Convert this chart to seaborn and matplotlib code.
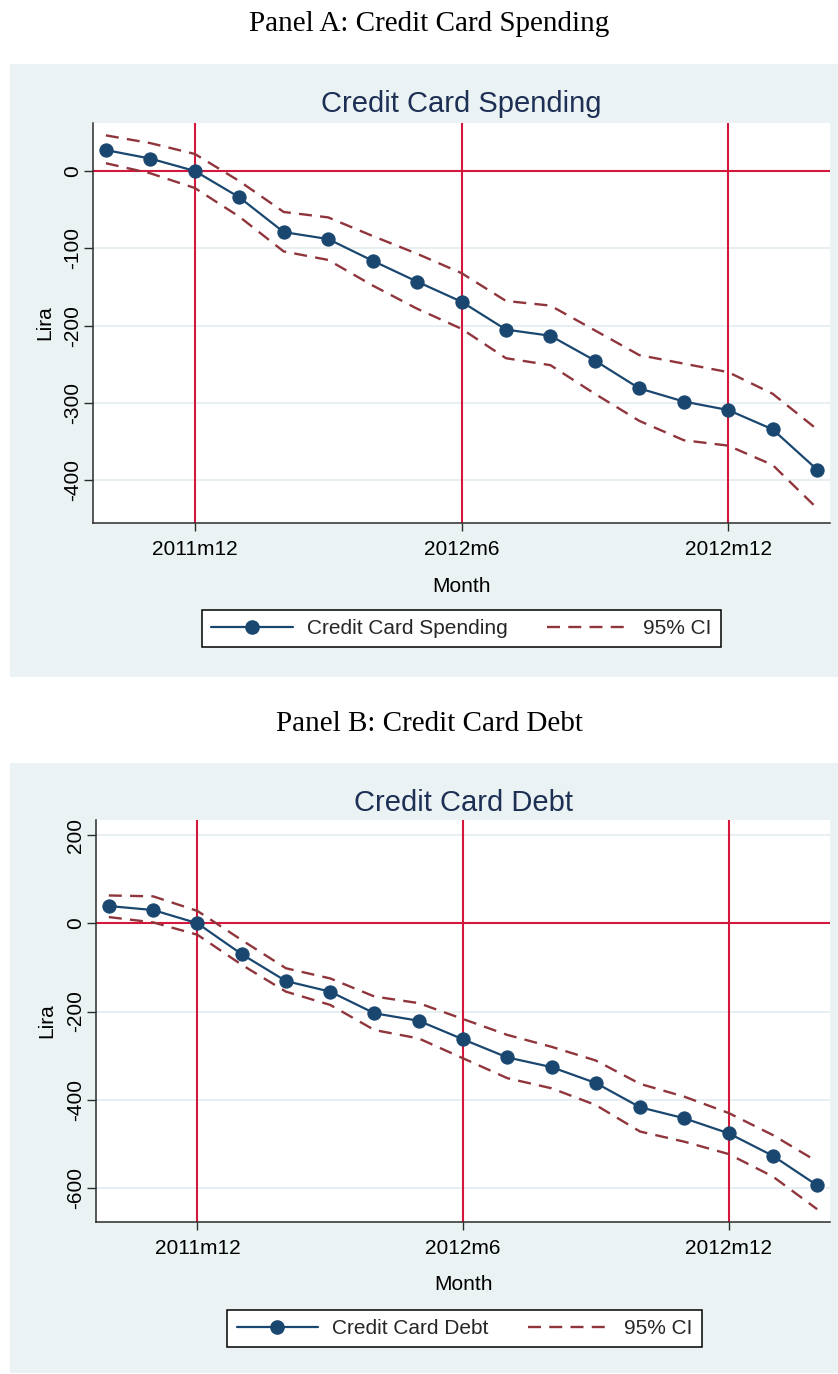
import numpy as np
import pandas as pd
import matplotlib
matplotlib.use("Agg")
import matplotlib.pyplot as plt
import seaborn as sns
from matplotlib.patches import Rectangle
from matplotlib.lines import Line2D

# ---------------- data ----------------
months = ["2011m10", "2011m11", "2011m12", "2012m1", "2012m2", "2012m3", "2012m4",
          "2012m5", "2012m6", "2012m7", "2012m8", "2012m9", "2012m10", "2012m11",
          "2012m12", "2013m1", "2013m2"]
tick_months = ["2011m12", "2012m6", "2012m12"]

spend = [27, 16, 0, -34, -79, -88, -116, -143, -169, -205, -213, -245, -281, -298, -309, -334, -386]
spend_hi = [46, 36, 22, -13, -53, -60, -84, -107, -132, -168, -174, -206, -238, -249, -260, -288, -334]
spend_lo = [10, -3, -22, -59, -104, -115, -148, -178, -204, -242, -251, -288, -323, -348, -355, -380, -436]

debt = [39, 30, 0, -70, -131, -155, -204, -221, -263, -304, -326, -362, -417, -442, -476, -527, -594]
debt_hi = [63, 61, 28, -38, -102, -125, -166, -181, -217, -253, -280, -311, -364, -393, -430, -480, -540]
debt_lo = [14, 2, -26, -94, -155, -185, -242, -261, -306, -351, -374, -412, -472, -495, -523, -574, -648]

spend_yticks = [0, -100, -200, -300, -400]
debt_yticks = [200, 0, -200, -400, -600]

# ---------------- style ----------------
sns.set_theme(style="white")
plt.rcParams['font.family'] = ['Liberation Sans', 'DejaVu Sans']

NAVY = "#1a476f"
MAROON = "#90353b"
RED = "#d3173d"
BG = "#eaf2f3"
GRID = "#e6eef1"
TITLE = "#1e2f55"
AXIS = "#2b2b2b"
DASH = (0, (5.5, 3.5))

W, H = 838, 1374
fig = plt.figure(figsize=(W / 100, H / 100), dpi=100)
fig.patch.set_facecolor("white")


def fx(x):
    return x / W


def fy(y):
    return 1 - y / H


def add_bg(l, t, r, b):
    fig.patches.append(Rectangle((fx(l), fy(b)), (r - l) / W, (b - t) / H,
                                 transform=fig.transFigure, facecolor=BG,
                                 edgecolor="none", zorder=-10))


def panel(box, ax_box, series, hi, lo, yticks, ylim, title, label,
          panel_title, panel_title_y, title_y, month_y, lira_x, legend_xy):
    add_bg(*box)
    l, t, r, b = ax_box
    ax = fig.add_axes([fx(l), fy(b), (r - l) / W, (b - t) / H])
    ax.set_facecolor("white")

    df = pd.DataFrame({"month": months, "x": np.arange(len(months)),
                       "est": series, "hi": hi, "lo": lo})

    # reference lines
    for m in tick_months:
        ax.axvline(months.index(m), color=RED, lw=1.5, zorder=1)
    ax.axhline(0, color=RED, lw=1.5, zorder=1)

    sns.lineplot(data=df, x="x", y="hi", color=MAROON, lw=1.7, ls=DASH, ax=ax, zorder=3)
    sns.lineplot(data=df, x="x", y="lo", color=MAROON, lw=1.7, ls=DASH, ax=ax, zorder=3)
    sns.lineplot(data=df, x="x", y="est", color=NAVY, lw=1.6, marker="o",
                 markersize=9.5, markeredgecolor=NAVY, markeredgewidth=0.8, ax=ax, zorder=4)

    ax.set_xlim(-0.29, len(months) - 1 + 0.29)
    ax.set_ylim(*ylim)
    ax.set_yticks(yticks)
    ax.set_yticklabels([str(v) for v in yticks])
    ax.set_xticks([months.index(m) for m in tick_months])
    ax.set_xticklabels(tick_months)

    ax.yaxis.grid(True, color=GRID, lw=1.3, zorder=0)
    ax.xaxis.grid(False)
    ax.set_axisbelow(True)

    for s in ["top", "right"]:
        ax.spines[s].set_visible(False)
    for s in ["left", "bottom"]:
        ax.spines[s].set_color(AXIS)
        ax.spines[s].set_linewidth(1.1)

    ax.tick_params(axis="y", direction="out", length=6.5, width=1.0, color=AXIS,
                   labelsize=15, labelcolor="black", pad=1.5, left=True,
                   labelrotation=90)
    ax.tick_params(axis="x", direction="out", length=6, width=1.0, color=AXIS,
                   labelsize=15, labelcolor="black", pad=6, bottom=True)
    for tl in ax.get_yticklabels():
        tl.set_va("center")

    ax.set_xlabel("Month", fontsize=15, color="black", va="center")
    ax.xaxis.set_label_coords(0.5, (b - month_y) / (b - t))
    ax.set_ylabel("Lira", fontsize=15, color="black", va="center")
    ax.yaxis.set_label_coords((lira_x - l) / (r - l), 0.5)

    fig.text(fx((l + r) / 2), fy(title_y), title, fontsize=21, color=TITLE,
             ha="center", va="center")
    fig.text(fx(429.5), fy(panel_title_y), panel_title, fontsize=21,
             family=["Liberation Serif", "DejaVu Serif"], color="black",
             ha="center", va="center")

    handles = [Line2D([], [], color=NAVY, lw=1.6, marker="o", markersize=9.5),
               Line2D([], [], color=MAROON, lw=1.7, ls=DASH)]
    leg = fig.legend(handles, [label, "95% CI"], loc="center",
                     bbox_to_anchor=(fx(legend_xy[0]), fy(legend_xy[1])),
                     ncol=2, fontsize=15, frameon=True, fancybox=False,
                     edgecolor="black", facecolor="white", framealpha=1,
                     handlelength=3.9, handletextpad=0.7, columnspacing=1.9,
                     borderpad=0.45, borderaxespad=0)
    leg.get_frame().set_linewidth(1.1)
    return ax


panel(box=(10, 64, 838, 677), ax_box=(93, 123, 830, 523),
      series=spend, hi=spend_hi, lo=spend_lo, yticks=spend_yticks,
      ylim=(-455, 62), title="Credit Card Spending", label="Credit Card Spending",
      panel_title="Panel A: Credit Card Spending", panel_title_y=24,
      title_y=104, month_y=586, lira_x=45, legend_xy=(461.5, 628.5))

panel(box=(10, 763, 838, 1373), ax_box=(96, 820, 830, 1222),
      series=debt, hi=debt_hi, lo=debt_lo, yticks=debt_yticks,
      ylim=(-677, 234), title="Credit Card Debt", label="Credit Card Debt",
      panel_title="Panel B: Credit Card Debt", panel_title_y=724,
      title_y=803, month_y=1284, lira_x=47, legend_xy=(464.5, 1328.5))

fig.savefig("out.png", dpi=100, facecolor="white")
